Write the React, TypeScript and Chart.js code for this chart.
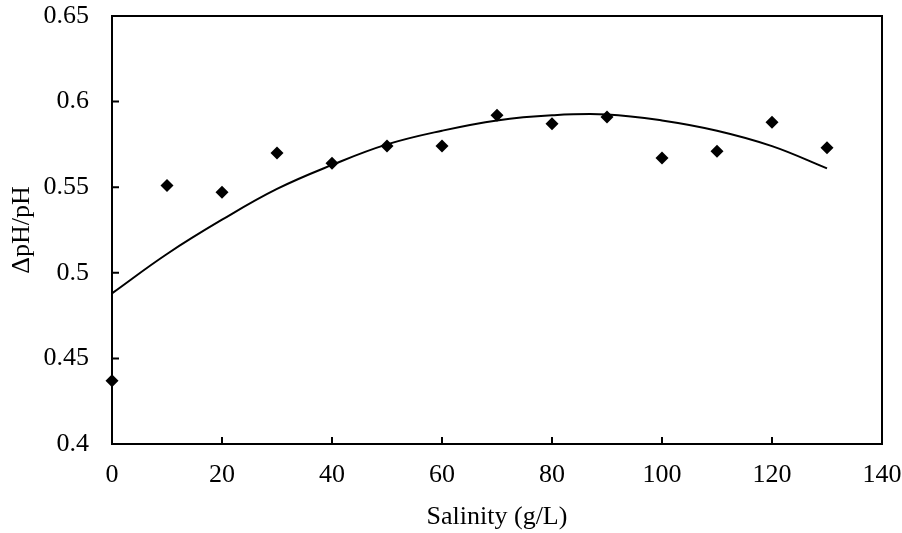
import React, { useEffect, useRef } from "react";
import { Chart, registerables } from "chart.js";

Chart.register(...registerables);

const salinity = [0, 10, 20, 30, 40, 50, 60, 70, 80, 90, 100, 110, 120, 130];
const ratioValues = [0.437, 0.551, 0.547, 0.570, 0.564, 0.574, 0.574, 0.592, 0.587, 0.591, 0.567, 0.571, 0.588, 0.573];
const trendValues = [0.488, 0.511, 0.531, 0.549, 0.563, 0.575, 0.583, 0.589, 0.592, 0.5925, 0.589, 0.583, 0.574, 0.561];
const xTicks = [0, 20, 40, 60, 80, 100, 120, 140];
const yTicks = [0.4, 0.45, 0.5, 0.55, 0.6, 0.65];

const FONT = "'Liberation Serif', 'Times New Roman', serif";

const framePlugin = {
  id: "frameAndTicks",
  afterDatasetsDraw(chart: any) {
    const { ctx, chartArea, scales } = chart;
    ctx.save();
    ctx.strokeStyle = "#000";
    ctx.lineWidth = 2;
    ctx.strokeRect(chartArea.left, chartArea.top, chartArea.right - chartArea.left, chartArea.bottom - chartArea.top);
    ctx.beginPath();
    for (const v of xTicks) {
      const px = scales.x.getPixelForValue(v);
      ctx.moveTo(px, chartArea.bottom);
      ctx.lineTo(px, chartArea.bottom - 7);
    }
    for (const v of yTicks) {
      const py = scales.y.getPixelForValue(v);
      ctx.moveTo(chartArea.left, py);
      ctx.lineTo(chartArea.left + 7, py);
    }
    ctx.stroke();
    ctx.restore();
  },
};

const noPad = (s: any) => {
  s.paddingTop = 0;
  s.paddingBottom = 0;
  s.paddingLeft = 0;
  s.paddingRight = 0;
};

export default function App() {
  const ref = useRef<HTMLCanvasElement | null>(null);
  useEffect(() => {
    if (!ref.current) return;
    const chart = new Chart(ref.current, {
      type: "scatter",
      data: {
        datasets: [
          {
            label: "trend",
            type: "line",
            data: salinity.map((x, i) => ({ x, y: trendValues[i] })),
            borderColor: "#000",
            borderWidth: 2,
            pointRadius: 0,
            tension: 0.4,
            fill: false,
            order: 2,
          } as any,
          {
            label: "ΔpH/pH",
            data: salinity.map((x, i) => ({ x, y: ratioValues[i] })),
            pointStyle: "rectRot",
            pointRadius: 6.5,
            backgroundColor: "#000",
            borderColor: "#000",
            borderWidth: 0,
            clip: false,
            order: 1,
          } as any,
        ],
      },
      options: {
        animation: false,
        responsive: false,
        layout: { padding: { left: 0, right: 20, top: 16, bottom: 0 } },
        plugins: { legend: { display: false }, tooltip: { enabled: false } },
        scales: {
          x: {
            type: "linear",
            min: 0,
            max: 140,
            afterFit: (s: any) => { s.height = 89; noPad(s); },
            afterBuildTicks: (s: any) => { s.ticks = xTicks.map((v) => ({ value: v })); },
            grid: { display: false, drawTicks: false },
            border: { display: false },
            ticks: { color: "#000", padding: 16, font: { family: FONT, size: 26 }, maxRotation: 0 },
            title: { display: true, text: "Salinity (g/L)", color: "#000", font: { family: FONT, size: 26 }, padding: { top: 3, bottom: 0 } },
          },
          y: {
            type: "linear",
            min: 0.4,
            max: 0.65,
            afterFit: (s: any) => { s.width = 112; noPad(s); },
            afterBuildTicks: (s: any) => { s.ticks = yTicks.map((v) => ({ value: v })); },
            grid: { display: false, drawTicks: false },
            border: { display: false },
            ticks: {
              color: "#000",
              padding: 23,
              font: { family: FONT, size: 26 },
              callback: (v: any) => String(Math.round(Number(v) * 100) / 100),
            },
            title: { display: true, text: "ΔpH/pH", color: "#000", font: { family: FONT, size: 26 }, padding: { top: 7, bottom: 0 } },
          },
        },
      },
      plugins: [framePlugin],
    });
    return () => chart.destroy();
  }, []);
  return (
    <div style={{ position: "fixed", left: 0, top: 0, width: 902, height: 533, background: "#fff" }}>
      <canvas ref={ref} width={902} height={533} />
    </div>
  );
}
